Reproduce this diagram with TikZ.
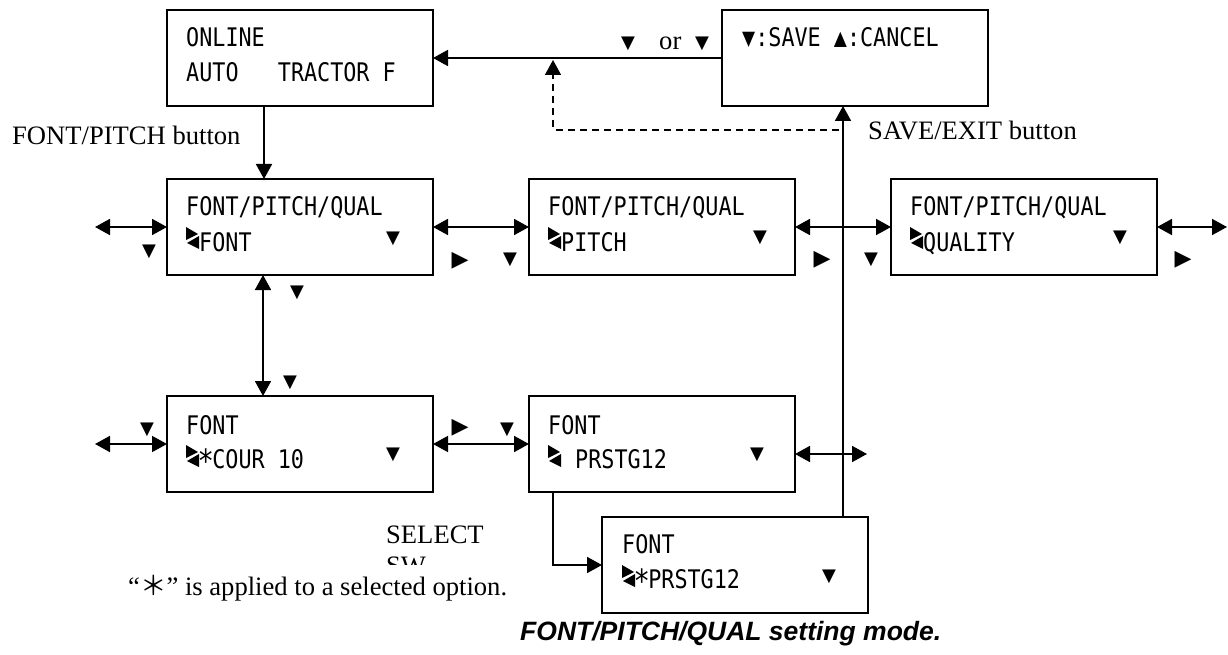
\documentclass[tikz,border=0pt]{standalone}
\usepackage{fontspec}
\setmainfont{Liberation Serif}
\newfontfamily\lcdfont[FakeStretch=0.85]{DejaVu Sans Mono}
\newfontfamily\symfont{DejaVu Sans}
\newfontfamily\cjkfont{Noto Sans CJK JP}
\newfontfamily\capfont{Liberation Sans}
\usetikzlibrary{arrows.meta,calc}
\newcommand{\lcdstar}{\makebox[13.1pt]{\raisebox{-4pt}{\fontsize{32}{32}\selectfont *}}}
\tikzset{
  box/.style={draw, line width=1.8pt, minimum width=266pt, minimum height=96pt, inner sep=0pt, outer sep=0pt},
  conn/.style={line width=1.8pt},
  arr/.style={conn, -{Triangle[length=15pt,width=16pt]}},
  darr/.style={conn, {Triangle[length=15pt,width=16pt]}-{Triangle[length=15pt,width=16pt]}},
  dsh/.style={line width=1.5pt, dash pattern=on 7pt off 5pt, rounded corners=3pt, -{Triangle[length=15pt,width=16pt]}},
  lcd/.style={anchor=base west, inner sep=0pt, font=\lcdfont\fontsize{25.6}{25.6}\selectfont},
  dn/.style={inner sep=0pt, font=\symfont\fontsize{18}{18}\selectfont},
  rt/.style={inner sep=0pt, font=\symfont\fontsize{22}{22}\selectfont},
  lbl/.style={anchor=base west, inner sep=0pt, font=\fontsize{26.6}{30}\selectfont},
  scrollmark/.pic={
    \fill (0,0) -- (12,7) -- (0,13) -- cycle;
    \fill (13,9) -- (1,16) -- (13,22) -- cycle;
  }
}
\begin{document}
\begin{tikzpicture}[x=1pt,y=-1pt]
\useasboundingbox (0,0) rectangle (1228,655);
% boxes
\node[box, anchor=north west] (online) at (167,10) {};
\node[box, anchor=north west] (save) at (722,10) {};
\node[box, anchor=north west] (A1) at (167,179) {};
\node[box, anchor=north west] (B1) at (529,179) {};
\node[box, anchor=north west] (C1) at (891,179) {};
\node[box, anchor=north west] (A2) at (167,396) {};
\node[box, anchor=north west] (B2) at (529,396) {};
\node[box, anchor=north west] (D) at (602,517) {};
% box texts
\node[lcd] (t1) at (186,47) {ONLINE};
\node[lcd] (t2) at (186,82) {AUTO\ \ \ TRACTOR F};
\node[lcd] (t3) at (742,47) {▼:SAVE ▲:CANCEL};
\node[lcd] (t4) at (186,215) {FONT/PITCH/QUAL};
\pic at (186,227) {scrollmark};
\node[lcd] (t5) at (199,251) {FONT};
\node[lcd] (t6) at (548,215) {FONT/PITCH/QUAL};
\pic at (548,227) {scrollmark};
\node[lcd] (t7) at (561,251) {PITCH};
\node[lcd] (t8) at (910,215) {FONT/PITCH/QUAL};
\pic at (910,227) {scrollmark};
\node[lcd] (t9) at (923,251) {QUALITY};
\node[lcd] (t10) at (186,434) {FONT};
\pic at (186,445) {scrollmark};
\node[lcd] (t11) at (199,468) {\lcdstar COUR 10};
\node[lcd] (t12) at (548,434) {FONT};
\pic at (548,445) {scrollmark};
\node[lcd] (t13) at (575,468) {PRSTG12};
\node[lcd] (t14) at (622,553) {FONT};
\pic at (622,565) {scrollmark};
\node[lcd] (t15) at (635,588) {\lcdstar PRSTG12};
% in-box down markers
\node[dn] (d1) at (393,239) {▼};
\node[dn] (d2) at (760,238) {▼};
\node[dn] (d3) at (1120,238) {▼};
\node[dn] (d4) at (393,455) {▼};
\node[dn] (d5) at (757,455) {▼};
\node[dn] (d6) at (829,577) {▼};
% outside markers
\node[dn] (m1) at (149,252) {▼};
\node[rt] (m2) at (460,261) {▶};
\node[dn] (m3) at (510,260) {▼};
\node[rt] (m4) at (822,260) {▶};
\node[dn] (m5) at (871,260) {▼};
\node[rt] (m6) at (1183,260) {▶};
\node[dn] (m7) at (297,293) {▼};
\node[dn] (m8) at (290,383) {▼};
\node[dn] (m9) at (147,430) {▼};
\node[rt] (m10) at (460,428) {▶};
\node[dn] (m11) at (507,430) {▼};
\node[dn] (m12) at (628,44) {▼};
\node[lbl] (or) at (659,50) {or};
\node[dn] (m13) at (702,44) {▼};
% labels
\node[lbl] (fpb) at (12,145) {FONT/PITCH button};
\node[lbl] (seb) at (868,140) {SAVE/EXIT button};
\begin{scope}
  \clip (370,500) rectangle (520,564);
  \node[lbl] (sel) at (386,543) {SELECT};
  \node[lbl] (sw) at (386,574) {SW};
\end{scope}
\node[lbl] (note) at (128,595) {“{\cjkfont ＊}” is applied to a selected option.};
\node[anchor=base west, inner sep=0pt, font=\capfont\bfseries\itshape\fontsize{26.5}{30}\selectfont] (cap) at (520,640) {FONT/PITCH/QUAL setting mode.};
% connectors
\draw[arr] ([xshift=97pt]online.south west) -- ([xshift=97pt]A1.north west);
\draw[arr] (save.west) -- (online.east);
\coordinate (vx) at (843,0);
\draw[arr] (D.north -| vx) -- (save.south -| vx);
\coordinate (dj) at (839,130);
\coordinate (dk) at (553,130);
\coordinate (dt) at (553,60);
\draw[dsh] (dj) -- (dk) -- (dt);
\coordinate (l1) at (95,227);
\coordinate (r1) at (1227,227);
\draw[darr] (l1) -- (A1.west);
\draw[darr] (A1.east) -- (B1.west);
\draw[darr] (B1.east) -- (C1.west);
\draw[darr] (C1.east) -- (r1);
\draw[darr] ([xshift=96pt]A1.south west) -- ([xshift=96pt]A2.north west);
\coordinate (l2) at (95,444);
\coordinate (r2) at (867,454);
\draw[darr] (l2) -- (A2.west);
\draw[darr] (A2.east) -- (B2.west);
\draw[darr] ([yshift=-10pt]B2.east) -- (r2);
\draw[arr] ([xshift=24pt]B2.south west) |- (D.west);
\end{tikzpicture}
\end{document}
